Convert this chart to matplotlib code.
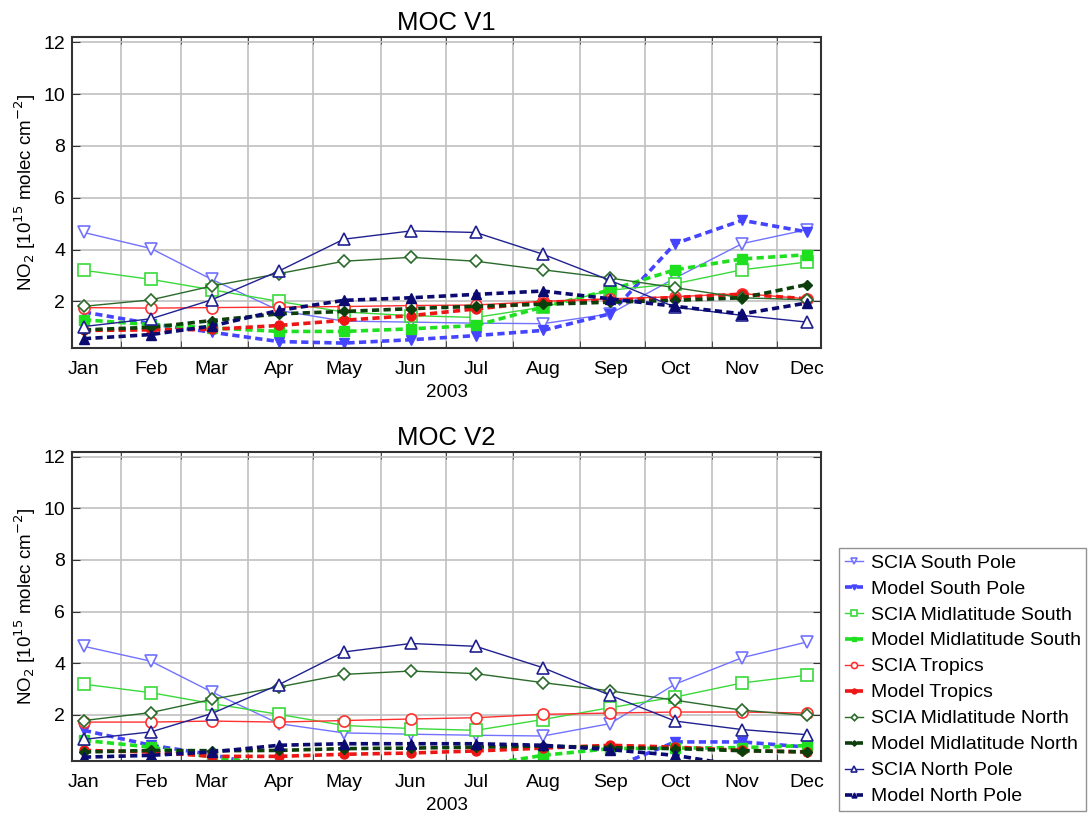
import numpy as np
import matplotlib
matplotlib.use("Agg")
import matplotlib.pyplot as plt

plt.rcParams['font.family'] = ['Liberation Sans', 'DejaVu Sans']

# months (mid-month day of year) and month boundaries
months = ["Jan", "Feb", "Mar", "Apr", "May", "Jun", "Jul", "Aug", "Sep", "Oct", "Nov", "Dec"]
day_mid = [15, 46, 74, 105, 135, 166, 196, 227, 258, 288, 319, 349]
day_bound = [32, 60, 91, 121, 152, 182, 213, 244, 274, 305, 335]

# MOC V1
scia_sp_v1 = [4.66, 4.04, 2.85, 1.65, 1.24, 1.20, 1.16, 1.14, 1.52, 2.90, 4.23, 4.77]
model_sp_v1 = [1.59, 1.14, 0.81, 0.45, 0.39, 0.52, 0.68, 0.88, 1.52, 4.23, 5.13, 4.68]
scia_ms_v1 = [3.20, 2.85, 2.45, 2.00, 1.59, 1.45, 1.38, 1.78, 2.43, 2.68, 3.22, 3.52]
model_ms_v1 = [1.29, 1.10, 0.98, 0.84, 0.84, 0.94, 1.07, 1.78, 2.44, 3.22, 3.64, 3.80]
scia_tr_v1 = [1.76, 1.74, 1.76, 1.78, 1.80, 1.84, 1.86, 2.00, 2.10, 2.18, 2.30, 2.10]
model_tr_v1 = [0.88, 0.90, 0.92, 1.07, 1.27, 1.45, 1.71, 1.97, 2.04, 2.15, 2.28, 2.10]
scia_mn_v1 = [1.81, 2.06, 2.59, 3.07, 3.55, 3.70, 3.55, 3.22, 2.90, 2.53, 2.14, 2.06]
model_mn_v1 = [0.90, 1.00, 1.26, 1.52, 1.61, 1.72, 1.81, 1.89, 1.97, 2.04, 2.14, 2.65]
scia_np_v1 = [1.03, 1.33, 2.06, 3.17, 4.40, 4.72, 4.66, 3.82, 2.81, 1.78, 1.46, 1.20]
model_np_v1 = [0.56, 0.72, 1.05, 1.65, 2.04, 2.14, 2.27, 2.40, 2.10, 1.81, 1.52, 1.94]

# MOC V2
scia_sp_v2 = [4.65, 4.07, 2.88, 1.65, 1.29, 1.24, 1.20, 1.17, 1.65, 3.18, 4.21, 4.82]
model_sp_v2 = [1.39, 0.81, 0.45, -0.10, -0.10, -0.10, -0.10, -0.10, -0.10, 0.94, 0.94, 0.74]
scia_ms_v2 = [3.18, 2.85, 2.43, 2.01, 1.58, 1.46, 1.39, 1.81, 2.27, 2.68, 3.23, 3.53]
model_ms_v2 = [1.00, 0.74, 0.35, 0.05, 0.00, 0.00, 0.00, 0.42, 0.68, 0.70, 0.72, 0.80]
scia_tr_v2 = [1.71, 1.71, 1.75, 1.71, 1.77, 1.83, 1.88, 2.01, 2.06, 2.10, 2.10, 2.06]
model_tr_v2 = [0.61, 0.55, 0.38, 0.38, 0.46, 0.51, 0.59, 0.70, 0.81, 0.74, 0.61, 0.55]
scia_mn_v2 = [1.77, 2.08, 2.59, 3.07, 3.56, 3.69, 3.59, 3.24, 2.92, 2.56, 2.17, 1.97]
model_mn_v2 = [0.55, 0.61, 0.60, 0.61, 0.68, 0.70, 0.74, 0.78, 0.72, 0.68, 0.60, 0.55]
scia_np_v2 = [1.04, 1.33, 2.04, 3.16, 4.43, 4.76, 4.65, 3.82, 2.75, 1.75, 1.42, 1.22]
model_np_v2 = [0.35, 0.42, 0.55, 0.81, 0.87, 0.87, 0.87, 0.81, 0.64, 0.42, 0.00, 0.00]

labels = ["SCIA South Pole", "Model South Pole", "SCIA Midlatitude South",
          "Model Midlatitude South", "SCIA Tropics", "Model Tropics",
          "SCIA Midlatitude North", "Model Midlatitude North",
          "SCIA North Pole", "Model North Pole"]
colors = ["#7272ff", "#4545ff", "#3ad93a", "#1fe01f", "#ff3030", "#ee1515",
          "#2a6a2a", "#0c3f0c", "#202090", "#0a0a70"]
markers = ["v", "v", "s", "s", "o", "o", "D", "D", "^", "^"]

panels = [
    ("MOC V1", [scia_sp_v1, model_sp_v1, scia_ms_v1, model_ms_v1, scia_tr_v1,
                model_tr_v1, scia_mn_v1, model_mn_v1, scia_np_v1, model_np_v1]),
    ("MOC V2", [scia_sp_v2, model_sp_v2, scia_ms_v2, model_ms_v2, scia_tr_v2,
                model_tr_v2, scia_mn_v2, model_mn_v2, scia_np_v2, model_np_v2]),
]

fig = plt.figure(figsize=(10.91, 8.16), dpi=100)
axes_rects = [[0.066, 0.5735, 0.6865, 0.381], [0.066, 0.0674, 0.6865, 0.379]]

handles = []
for (title, series), rect in zip(panels, axes_rects):
    ax = fig.add_axes(rect)
    handles = []
    for i, vals in enumerate(series):
        if i % 2 == 0:
            h, = ax.plot(day_mid, vals, color=colors[i], lw=1.0, marker=markers[i],
                         ms=8 if markers[i] != "D" else 6, mfc="white",
                         mec=colors[i], mew=1.2, label=labels[i])
        else:
            h, = ax.plot(day_mid, vals, color=colors[i], lw=2.6, ls=(0, (2.0, 1.2)),
                         marker=markers[i], ms=6.5 if markers[i] != "D" else 5,
                         mfc=colors[i], mec=colors[i], label=labels[i])
        handles.append(h)
    ax.set_xlim(9.5, 355.4)
    ax.set_ylim(0.2, 12.2)
    ax.set_yticks([2, 4, 6, 8, 10, 12])
    ax.set_xticks(day_mid)
    ax.set_xticklabels(months)
    ax.set_xticks(day_bound, minor=True)
    ax.tick_params(axis="x", which="major", length=0, labelsize=14, pad=9)
    ax.tick_params(axis="x", which="minor", direction="in", length=5, top=True,
                   bottom=True, color="#333333")
    ax.tick_params(axis="y", which="major", direction="in", length=6, left=True,
                   right=True, labelsize=14, pad=5, color="#333333")
    ax.grid(axis="x", which="minor", color="#c0c0c0", lw=1.2)
    ax.grid(axis="y", which="major", color="#c0c0c0", lw=1.2)
    ax.set_axisbelow(True)
    for sp in ax.spines.values():
        sp.set_linewidth(1.5)
        sp.set_color("#333333")
    ax.set_title(title, fontsize=18.5, pad=5)
    ax.set_xlabel("2003", fontsize=13.5, labelpad=5)
    ax.set_ylabel("NO$_2$ [10$^{15}$ molec cm$^{-2}$]", fontsize=13.5, labelpad=4)

fig.legend(handles, labels, loc="lower left", bbox_to_anchor=(0.765, 0.0),
           fontsize=14, frameon=True, fancybox=False, edgecolor="#777777",
           handlelength=0.9, handletextpad=0.4, labelspacing=0.43,
           borderpad=0.3, borderaxespad=0.25, markerscale=0.55)

fig.savefig("out.png", dpi=100)
